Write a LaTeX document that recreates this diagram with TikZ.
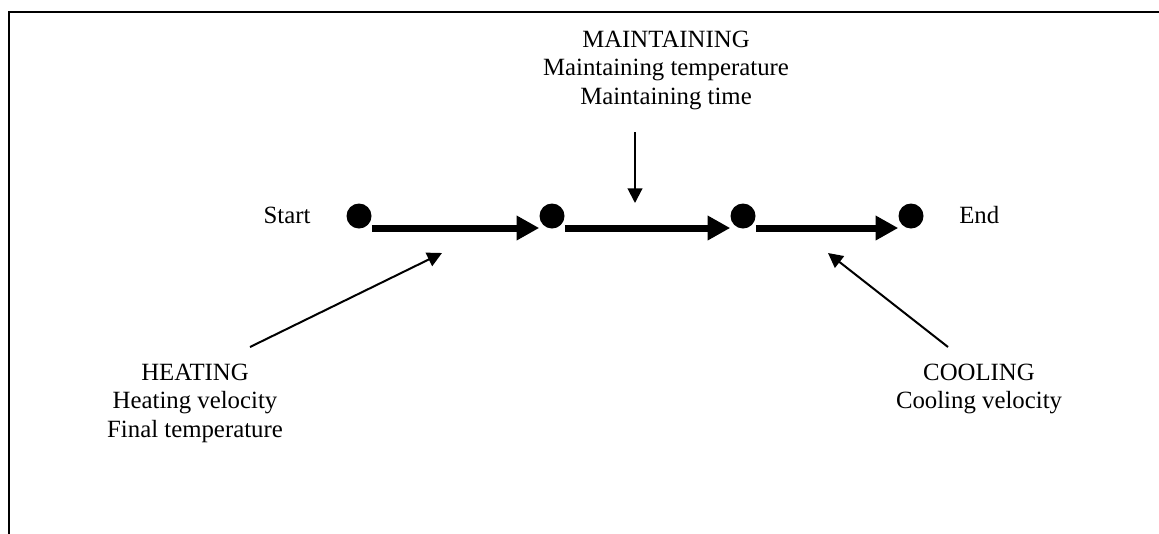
\documentclass[tikz,border=0pt]{standalone}
\usepackage{fontspec}
\setmainfont{Liberation Serif}
\usetikzlibrary{arrows.meta}
\begin{document}
\begin{tikzpicture}[x=0.75pt,y=-0.75pt,
  lbl/.style={align=center,font=\fontsize{18.6pt}{21.5pt}\selectfont,inner sep=0pt},
  dot/.style={circle,fill=black,minimum size=18.75pt,inner sep=0pt},
  flow/.style={line width=5.25pt,-{Triangle[length=17pt,width=17.5pt]}},
  thinarrow/.style={line width=1.5pt,-{Triangle[length=11pt,width=11pt]}},
  framelines/.style={line width=1.5pt}]
\useasboundingbox (0,0) rectangle (1159,533);
\draw[framelines] (9,534) -- (9,12) -- (1160,12);

\node[dot] (d1) at (359,216) {};
\node[dot] (d2) at (552,216) {};
\node[dot] (d3) at (743,216) {};
\node[dot] (d4) at (911,216) {};

\node[lbl,anchor=base] (start) at (287,223) {Start};
\node[lbl,anchor=base west] (end) at (959,223) {End};

\node[lbl,anchor=north] (maint) at (666,26.9) {\strut MAINTAINING\\Maintaining temperature\\Maintaining time};
\node[lbl,anchor=north] (heat) at (195,359.9) {\strut HEATING\\Heating velocity\\Final temperature};
\node[lbl,anchor=north] (cool) at (979,359.9) {\strut COOLING\\Cooling velocity};

\draw[flow] ([yshift=-9pt]d1.east) -- ([yshift=-9pt]d2.west);
\draw[flow] ([yshift=-9pt]d2.east) -- ([yshift=-9pt]d3.west);
\draw[flow] ([yshift=-9pt]d3.east) -- ([yshift=-9pt]d4.west);

\coordinate (ms) at (635,132);
\coordinate (mt) at (635,203);
\coordinate (hs) at (250,347);
\coordinate (ht) at (442,253);
\coordinate (cs) at (948,347);
\coordinate (ct) at (828,253);
\draw[thinarrow] (ms) -- (mt);
\draw[thinarrow] (hs) -- (ht);
\draw[thinarrow] (cs) -- (ct);
\end{tikzpicture}
\end{document}
